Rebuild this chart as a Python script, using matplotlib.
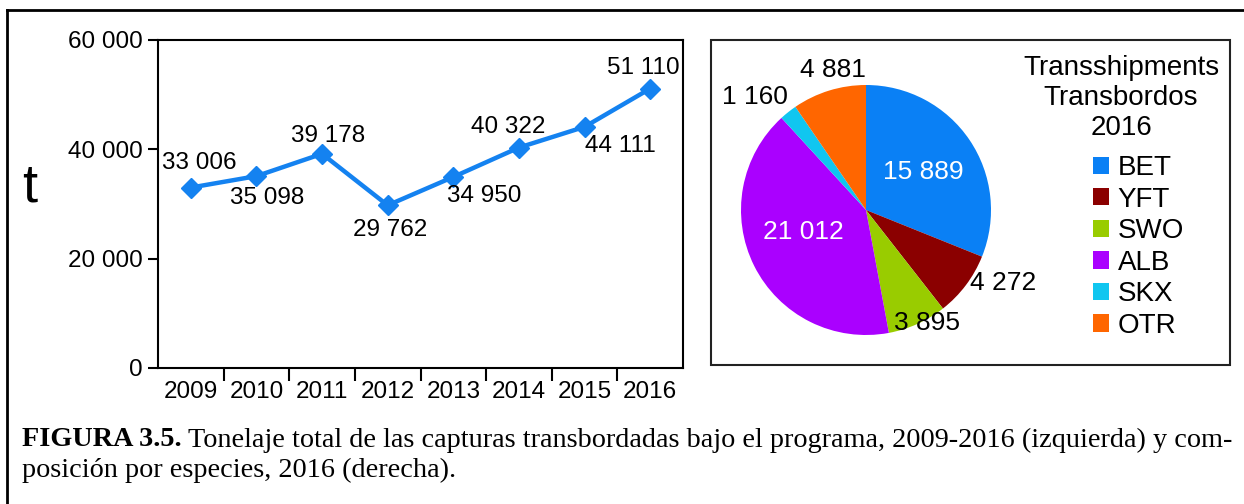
import numpy as np
import matplotlib.pyplot as plt
from matplotlib.patches import Rectangle
from matplotlib.lines import Line2D

plt.rcParams['font.family'] = ['Liberation Sans', 'DejaVu Sans']

# left chart: total transshipped tonnage
years = ['2009', '2010', '2011', '2012', '2013', '2014', '2015', '2016']
tonnage = [33006, 35098, 39178, 29762, 34950, 40322, 44111, 51110]

# right chart: species composition 2016
species = ['BET', 'YFT', 'SWO', 'ALB', 'SKX', 'OTR']
species_t = [15889, 4272, 3895, 21012, 1160, 4881]
species_col = ['#0a80f5', '#8b0000', '#99cc00', '#aa00ff', '#10c6f0', '#ff6600']

legend_title = 'Transshipments\nTransbordos\n2016'
caption_bold = 'FIGURA 3.5.'
caption_1 = 'Tonelaje total de las capturas transbordadas bajo el programa, 2009-2016 (izquierda) y com-'
caption_2 = 'posición por especies, 2016 (derecha).'


def fmt(v):
    return '{:,}'.format(v).replace(',', ' ')


W, H = 1244, 504
fig = plt.figure(figsize=(W / 100, H / 100), dpi=100)


def px_axes(x0, y0, x1, y1):
    # pixel box (top-left origin) -> figure fraction
    return fig.add_axes([x0 / W, 1 - y1 / H, (x1 - x0) / W, (y1 - y0) / H])


# outer frame (top + left only, rest runs off the page)
fig.add_artist(Line2D([7 / W, 1.0], [1 - 10 / H] * 2, color='black', lw=2, transform=fig.transFigure))
fig.add_artist(Line2D([7 / W] * 2, [0, 1 - 10 / H], color='black', lw=2, transform=fig.transFigure))

# ---- line chart
ax = px_axes(158, 40, 683, 368)
x = np.arange(len(years))
ax.plot(x, tonnage, color='#1482f0', lw=3.2, marker='D', ms=10, zorder=3)
ax.set_xlim(-0.5, len(years) - 0.5)
ax.set_ylim(0, 60000)
ax.set_yticks([0, 20000, 40000, 60000])
ax.set_yticklabels([fmt(v) for v in [0, 20000, 40000, 60000]], fontsize=17.5)
ax.set_xticks(x)
ax.set_xticklabels(years, fontsize=17.5)
ax.set_xticks(np.arange(0.5, len(years) - 1, 1), minor=True)
ax.tick_params(axis='x', which='major', length=0, pad=9)
ax.tick_params(axis='x', which='minor', length=9, width=1.5, direction='out')
ax.tick_params(axis='y', length=7, width=1.5, pad=4)
for s in ax.spines.values():
    s.set_linewidth(1.5)
ax.set_ylabel('t', fontsize=39, rotation=0, ha='center', va='center')
ax.yaxis.set_label_coords(-0.244, 0.549)

# label offsets in points (dx, dy)
lab_off = [(6, 18), (8, -16), (4, 13), (2, -18), (22, -14), (-8, 15), (26, -14), (-5, 15)]
for xi, v, (dx, dy) in zip(x, tonnage, lab_off):
    ax.annotate(fmt(v), (xi, v), xytext=(dx, dy), textcoords='offset points',
                ha='center', va='center', fontsize=17.5)

# ---- pie chart box
fig.add_artist(Rectangle((711 / W, 1 - 365 / H), (1230 - 711) / W, (365 - 40) / H,
                         fill=False, ec='#222222', lw=1.5, transform=fig.transFigure))

pax = px_axes(741, 85, 991, 335)
wedges, _ = pax.pie(species_t, colors=species_col, startangle=90, counterclock=False,
                    radius=1.0, wedgeprops=dict(lw=0))
pax.set_xlim(-1, 1)
pax.set_ylim(-1, 1)
pax.set_aspect('equal')

# label radius, angle tweak (deg), colour
pie_lab = [(0.55, 0, 'white'), (1.24, 9, 'black'), (1.03, 4, 'black'),
           (0.53, -7, 'white'), (1.27, 6, 'black'), (1.15, -4, 'black')]
for w, v, (r, da, c) in zip(wedges, species_t, pie_lab):
    ang = np.deg2rad((w.theta1 + w.theta2) / 2 + da)
    pax.text(r * np.cos(ang), r * np.sin(ang), fmt(v), ha='center', va='center',
             fontsize=19, color=c, clip_on=False)

fig.text(1121 / W, 1 - 98 / H, legend_title, ha='center', va='center',
         multialignment='center', fontsize=20)
fig.legend(wedges, species, loc='upper left', bbox_to_anchor=(1093 / W, 1 - 155 / H),
           frameon=False, fontsize=20, handlelength=0.58, handleheight=0.58,
           handletextpad=0.3, labelspacing=0.2, borderpad=0, borderaxespad=0)

# ---- caption
fig.canvas.draw()
cap_fs = 20.3
t1 = fig.text(22 / W, 1 - 440 / H, caption_bold, family='Liberation Serif', weight='bold',
              fontsize=cap_fs, va='center')
bb = t1.get_window_extent(fig.canvas.get_renderer())
fig.text((bb.x1 + 6) / W, 1 - 440 / H, caption_1, family='Liberation Serif',
         fontsize=cap_fs, va='center')
fig.text(22 / W, 1 - 470 / H, caption_2, family='Liberation Serif', fontsize=cap_fs, va='center')

fig.savefig('out.png', dpi=100)
